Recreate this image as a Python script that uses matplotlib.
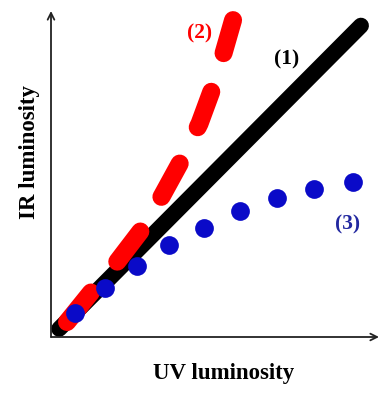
import matplotlib
matplotlib.use("Agg")
import matplotlib.pyplot as plt

# --- data (arbitrary units, 0..10 on both axes) ---
line1_uv = [0.25, 9.45]
line1_ir = [0.25, 9.55]

line2_uv = [0.49, 1.31, 2.02, 2.81, 3.39, 3.94, 4.53, 5.05, 5.55]
line2_ir = [0.46, 1.48, 2.31, 3.35, 4.34, 5.35, 6.55, 7.97, 9.72]

line3_uv = [0.73, 1.65, 2.63, 3.61, 4.65, 5.75, 6.88, 8.01, 9.20]
line3_ir = [0.74, 1.51, 2.18, 2.83, 3.35, 3.85, 4.25, 4.55, 4.74]

labels = ["(1)", "(2)", "(3)"]
label_uv = [7.19, 4.53, 9.05]
label_ir = [8.50, 9.30, 3.45]

RED = "#ff0000"
BLUE = "#0a0ac8"
NAVY = "#2228a0"

plt.rcParams["font.family"] = ["Liberation Serif", "DejaVu Serif"]

fig = plt.figure(figsize=(3.8, 3.94), dpi=100)
ax = fig.add_axes([51 / 380, 57 / 394, 328 / 380, 326 / 394])
ax.set_xlim(0, 10)
ax.set_ylim(0, 10)
for s in ax.spines.values():
    s.set_visible(False)
ax.set_xticks([])
ax.set_yticks([])

# axes drawn as arrows
ax.annotate("", xy=(1.0, 0.0), xytext=(0.0, 0.0), xycoords="axes fraction",
            arrowprops=dict(arrowstyle="->", lw=1.3, color="#222222",
                            shrinkA=0, shrinkB=0, mutation_scale=12))
ax.annotate("", xy=(0.0, 1.0), xytext=(0.0, 0.0), xycoords="axes fraction",
            arrowprops=dict(arrowstyle="->", lw=1.3, color="#222222",
                            shrinkA=0, shrinkB=0, mutation_scale=12))

# (1) black solid
ax.plot(line1_uv, line1_ir, color="black", lw=11.5, solid_capstyle="round",
        zorder=2)

# (2) red dashed
l2, = ax.plot(line2_uv, line2_ir, color=RED, lw=13, zorder=3,
              dash_capstyle="round")
l2.set_dashes((2.1, 2.25))

# (3) blue dots
ax.plot(line3_uv, line3_ir, "o", color=BLUE, ms=13.5, mec="none", zorder=4)

colors = ["black", RED, NAVY]
for t, x, y, c in zip(labels, label_uv, label_ir, colors):
    ax.text(x, y, t, color=c, fontsize=15.5, fontweight="bold",
            ha="center", va="center")

fig.text(224 / 380, 1 - 373 / 394, "UV luminosity", fontsize=16.5,
         fontweight="bold", ha="center", va="center")
fig.text(30 / 380, 1 - 152 / 394, "IR luminosity", fontsize=16.5,
         fontweight="bold", ha="center", va="center", rotation=90)

fig.savefig("out.png", dpi=100)
